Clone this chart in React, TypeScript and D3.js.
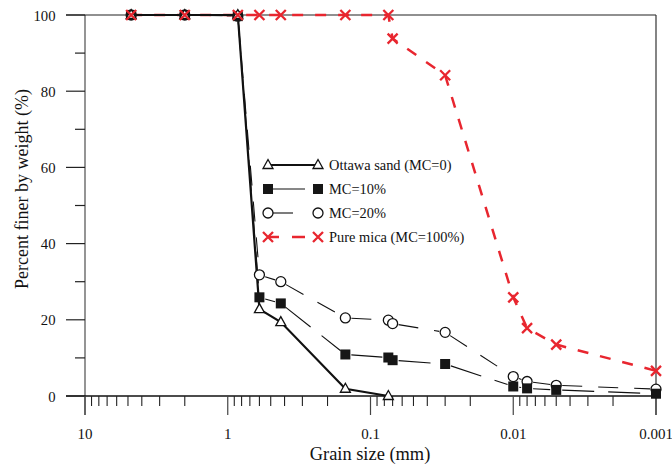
import React from "react";
import * as d3 from "d3";

const ottawaSize = [4.75, 2.0, 0.85, 0.6, 0.425, 0.15, 0.075];
const ottawaPct = [100, 100, 100, 22.8, 19.4, 1.9, 0];

const mc10Size = [4.75, 2.0, 0.85, 0.6, 0.425, 0.15, 0.075, 0.07, 0.03, 0.01, 0.008, 0.005, 0.001];
const mc10Pct = [100, 100, 99.7, 25.9, 24.3, 10.9, 10.1, 9.4, 8.4, 2.5, 2.0, 1.6, 0.6];

const mc20Size = [4.75, 2.0, 0.85, 0.6, 0.425, 0.15, 0.075, 0.07, 0.03, 0.01, 0.008, 0.005, 0.001];
const mc20Pct = [100, 100, 99.7, 31.8, 30.0, 20.5, 19.9, 19.0, 16.7, 5.1, 3.8, 2.8, 1.8];

const micaSize = [4.75, 2.0, 0.85, 0.6, 0.425, 0.15, 0.075, 0.07, 0.03, 0.01, 0.008, 0.005, 0.001];
const micaPct = [100, 100, 100, 100, 100, 100, 100, 93.8, 84.2, 25.9, 17.8, 13.5, 6.6];

const xMajorTicks = [10, 1, 0.1, 0.01, 0.001];
const xTickLabels = ["10", "1", "0.1", "0.01", "0.001"];
const yTicks = [0, 20, 40, 60, 80, 100];
const yMinorTicks = [10, 30, 50, 70, 90];

const legendLabels = ["Ottawa sand (MC=0)", "MC=10%", "MC=20%", "Pure mica (MC=100%)"];

const RED = "#e8262f";
const FONT = "'Liberation Serif', 'Times New Roman', serif";

export default function App() {
  const L = 85, R = 656, T = 15, B = 396;
  const x = d3.scaleLog().domain([10, 0.001]).range([L, R]);
  const y = d3.scaleLinear().domain([0, 100]).range([B, T]);

  const minor: number[] = [];
  for (let e = -3; e <= 0; e++) {
    for (let m = 2; m <= 9; m++) minor.push(m * Math.pow(10, e));
  }

  const line = d3
    .line<[number, number]>()
    .x((d) => x(d[0]))
    .y((d) => y(d[1]));

  const zip = (a: number[], b: number[]) => a.map((v, i) => [v, b[i]] as [number, number]);

  const ott = zip(ottawaSize, ottawaPct);
  const m10 = zip(mc10Size, mc10Pct);
  const m20 = zip(mc20Size, mc20Pct);
  const mic = zip(micaSize, micaPct);

  // draw segment by segment, leaving a gap next to each marker
  const gappedSegments = (pts: [number, number][], gap: number, dash: string, key: string) =>
    pts.slice(1).map((p, i) => {
      const a = pts[i];
      const x1 = x(a[0]), y1 = y(a[1]), x2 = x(p[0]), y2 = y(p[1]);
      const len = Math.hypot(x2 - x1, y2 - y1);
      if (len <= 2 * gap + 1) return null;
      const ux = (x2 - x1) / len, uy = (y2 - y1) / len;
      return (
        <line
          key={key + i}
          x1={x1 + ux * gap}
          y1={y1 + uy * gap}
          x2={x2 - ux * gap}
          y2={y2 - uy * gap}
          stroke="#111"
          strokeWidth={1.1}
          strokeDasharray={dash}
        />
      );
    });

  const tri = (cx: number, cy: number, k: string) => (
    <path
      key={k}
      d={`M${cx},${cy - 5.5}L${cx + 5},${cy + 3.5}L${cx - 5},${cy + 3.5}Z`}
      fill="white"
      stroke="#111"
      strokeWidth={1.3}
    />
  );
  const sq = (cx: number, cy: number, k: string) => (
    <rect key={k} x={cx - 5} y={cy - 5} width={10} height={10} fill="#161616" />
  );
  const circ = (cx: number, cy: number, k: string) => (
    <circle key={k} cx={cx} cy={cy} r={5} fill="white" stroke="#111" strokeWidth={1.3} />
  );
  const cross = (cx: number, cy: number, k: string) => (
    <path
      key={k}
      d={`M${cx - 5},${cy - 5}L${cx + 5},${cy + 5}M${cx - 5},${cy + 5}L${cx + 5},${cy - 5}`}
      stroke={RED}
      strokeWidth={2.3}
      fill="none"
    />
  );

  const legendY = [165, 189, 213, 237];
  const lx1 = 268, lx2 = 318;

  return (
    <svg
      width={672}
      height={466}
      style={{ position: "absolute", left: 0, top: 0, background: "white" }}
      fontFamily={FONT}
    >
      <rect x={0} y={0} width={672} height={466} fill="white" />

      {/* frame */}
      <line x1={L} x2={L} y1={T} y2={415} stroke="#7a7a7a" strokeWidth={1.6} />
      <line x1={66} x2={R} y1={T} y2={T} stroke="#222" strokeWidth={1.2} />
      <line x1={R} x2={R} y1={T} y2={415} stroke="#333" strokeWidth={1.2} />
      <line x1={66} x2={R} y1={B} y2={B} stroke="#111" strokeWidth={1.3} />

      {/* y ticks */}
      {yTicks.map((t) => (
        <g key={"yt" + t}>
          <line x1={66} x2={L} y1={y(t)} y2={y(t)} stroke="#222" strokeWidth={1.2} />
          <text x={55.5} y={y(t) + 5.5} textAnchor="end" fontSize={14.7} fill="#111">
            {t}
          </text>
        </g>
      ))}
      {yMinorTicks.map((t) => (
        <line key={"ym" + t} x1={75} x2={L} y1={y(t)} y2={y(t)} stroke="#222" strokeWidth={1.2} />
      ))}

      {/* x ticks */}
      {xMajorTicks.map((t, i) => (
        <g key={"xt" + t}>
          <line x1={x(t)} x2={x(t)} y1={B} y2={415} stroke="#444" strokeWidth={1.2} />
          <text x={x(t)} y={439} textAnchor="middle" fontSize={15} fill="#111">
            {xTickLabels[i]}
          </text>
        </g>
      ))}
      {minor.map((t, i) => (
        <line key={"xm" + i} x1={x(t)} x2={x(t)} y1={B} y2={406} stroke="#222" strokeWidth={1.1} />
      ))}

      {/* axis titles */}
      <text x={370} y={460} textAnchor="middle" fontSize={18.4} fill="#111">
        Grain size (mm)
      </text>
      <text
        transform={`translate(28,189) rotate(-90)`}
        textAnchor="middle"
        fontSize={18}
        fill="#111"
      >
        Percent finer by weight (%)
      </text>

      {/* series lines */}
      {gappedSegments(m20, 6, "20,16", "g20")}
      {gappedSegments(m10, 6, "32,14", "g10")}
      <path d={line(mic) || ""} fill="none" stroke={RED} strokeWidth={2.5} strokeDasharray="11,12" />
      <path d={line(ott) || ""} fill="none" stroke="#111" strokeWidth={2.2} />

      {/* markers */}
      {m20.map((d, i) => circ(x(d[0]), y(d[1]), "c" + i))}
      {m10.map((d, i) => sq(x(d[0]), y(d[1]), "s" + i))}
      {ott.map((d, i) => tri(x(d[0]), y(d[1]), "t" + i))}
      {mic.map((d, i) => cross(x(d[0]), y(d[1]), "x" + i))}

      {/* legend */}
      <g>
        <line x1={lx1} x2={lx2} y1={legendY[0]} y2={legendY[0]} stroke="#111" strokeWidth={2.2} />
        {tri(lx1, legendY[0], "lt1")}
        {tri(lx2, legendY[0], "lt2")}
        <line x1={lx1} x2={305} y1={legendY[1]} y2={legendY[1]} stroke="#111" strokeWidth={1.1} />
        {sq(lx1, legendY[1], "ls1")}
        {sq(lx2, legendY[1], "ls2")}
        <line x1={lx1} x2={293} y1={legendY[2]} y2={legendY[2]} stroke="#111" strokeWidth={1.1} />
        {circ(lx1, legendY[2], "lc1")}
        {circ(lx2, legendY[2], "lc2")}
        <line x1={lx1} x2={279} y1={legendY[3]} y2={legendY[3]} stroke={RED} strokeWidth={2.5} />
        <line x1={292} x2={305} y1={legendY[3]} y2={legendY[3]} stroke={RED} strokeWidth={2.5} />
        {cross(lx1, legendY[3], "lx1")}
        {cross(lx2, legendY[3], "lx2")}
        {legendLabels.map((s, i) => (
          <text key={"lg" + i} x={329} y={legendY[i] + 5} fontSize={14.4} fill="#111">
            {s}
          </text>
        ))}
      </g>
    </svg>
  );
}
